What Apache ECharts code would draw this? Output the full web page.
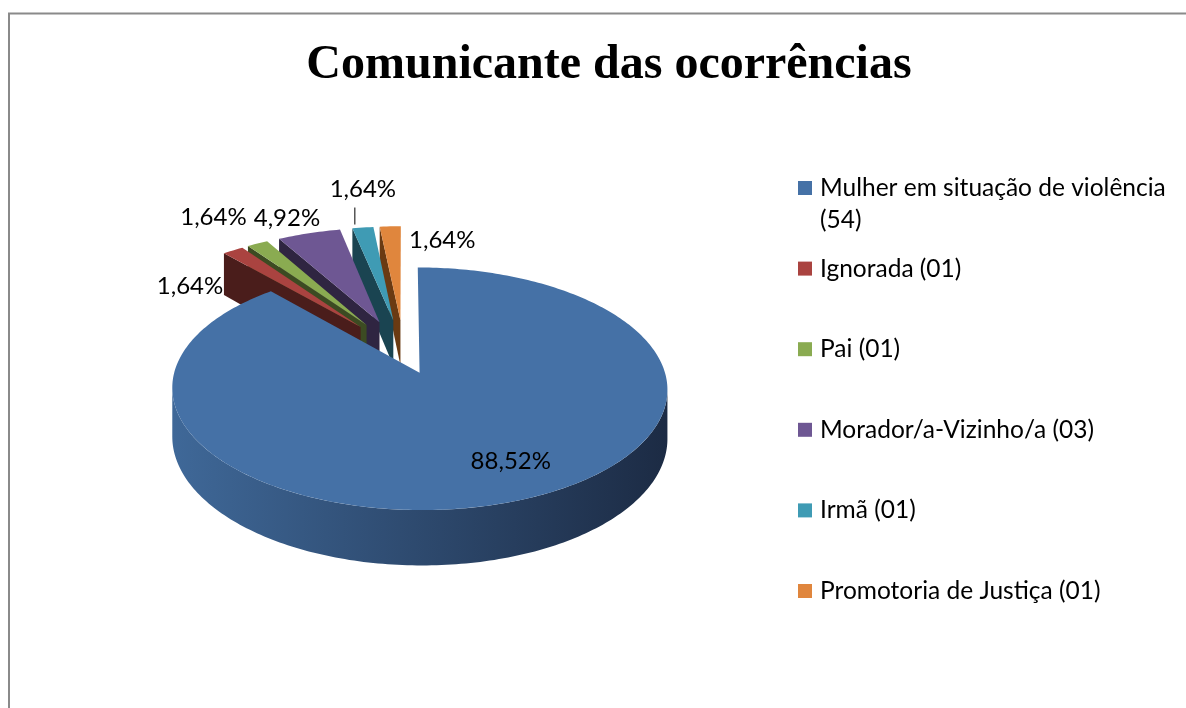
<!DOCTYPE html>
<html>
<head>
<meta charset="utf-8">
<title>Comunicante das ocorrências</title>
<script src="https://cdn.jsdelivr.net/npm/echarts@6/dist/echarts.min.js"></script>
<style>
  html, body { margin: 0; padding: 0; background: #fff; }
  #chart { width: 1186px; height: 708px; }
</style>
</head>
<body>
<div id="chart"></div>
<script>
  // dados
  const categories = ['Mulher em situação de violência', 'Ignorada', 'Pai', 'Morador/a-Vizinho/a', 'Irmã', 'Promotoria de Justiça'];
  const counts = [54, 1, 1, 3, 1, 1];

  // estilo
  const topColors = ['#4571a6', '#aa4340', '#8aab51', '#6e5793', '#3f9bb4', '#e0863d'];
  const wallColors = ['#1d2c45', '#4a1d1b', '#3c4b22', '#2f2541', '#1a4451', '#6a3a12'];
  const sideColors = ['#3f6898', '#1c2b44'];
  const explode = [0.18, 0.3, 0.3, 0.3, 0.3, 0.3];
  const labelShift = [[18, -4], [-43, 36], [-44, -26], [-22, -15], [0, -38], [52, 14]];
  const leader = [false, false, false, false, true, false];
  const FONT = '24px Lato';

  const total = counts.reduce((s, v) => s + v, 0);
  const names = categories.map((c, i) => c + ' (' + String(counts[i]).padStart(2, '0') + ')');
  const pctText = v => (v / total * 100).toFixed(2).replace('.', ',') + '%';

  // projeção do disco em perspectiva
  const CX = 404, CY = 353, RX = 240, RY = 114, K = 0.13, DEPTH = 47;
  const RAD = Math.PI / 180;
  function proj(u, v, down) {
    const w = 1 + K * v;
    return [CX + RX * u / w, CY - RY * v / w + (down ? DEPTH / w : 0)];
  }

  // ângulos de cada fatia (sentido horário a partir das 12h)
  const angles = [];
  let acc = 0;
  counts.forEach(v => {
    const a1 = 90 - acc / total * 360;
    acc += v;
    angles.push([90 - acc / total * 360, a1]);
  });

  function arc(off, t0, t1, down) {
    const pts = [];
    const n = Math.max(2, Math.ceil(Math.abs(t1 - t0)));
    for (let j = 0; j <= n; j++) {
      const t = (t0 + (t1 - t0) * j / n) * RAD;
      pts.push(proj(off[0] + Math.cos(t), off[1] + Math.sin(t), down));
    }
    return pts;
  }

  // trecho da borda externa voltado para o observador
  function visibleRanges(a, b) {
    const lo = 180 + Math.asin(K) / RAD, hi = 360 - Math.asin(K) / RAD;
    const out = [];
    [-720, -360, 0, 360].forEach(s => {
      const t0 = Math.max(a, lo + s), t1 = Math.min(b, hi + s);
      if (t1 > t0) out.push([t0, t1]);
    });
    return out;
  }

  function renderSlice(i) {
    const [a, b] = angles[i];
    const m = (a + b) / 2 * RAD;
    const off = [explode[i] * Math.cos(m), explode[i] * Math.sin(m)];
    const base = i === 0 ? 20 : 2 * (counts.length - i);
    const rim = (t, down) => proj(off[0] + Math.cos(t * RAD), off[1] + Math.sin(t * RAD), down);
    const apexTop = proj(off[0], off[1], false);
    const apexBot = proj(off[0], off[1], true);
    const children = [];

    const wall = pts => ({ type: 'polygon', shape: { points: pts }, style: { fill: wallColors[i] }, z2: base });
    if (Math.cos(b * RAD) < -1e-6) children.push(wall([apexTop, rim(b, false), rim(b, true), apexBot]));
    if (Math.cos(a * RAD) > 1e-6) children.push(wall([apexTop, rim(a, false), rim(a, true), apexBot]));

    visibleRanges(a, b).forEach(([t0, t1]) => {
      children.push({
        type: 'polygon',
        shape: { points: arc(off, t0, t1, false).concat(arc(off, t1, t0, true)) },
        style: {
          fill: {
            type: 'linear', x: 0, y: 0, x2: 1, y2: 0,
            colorStops: [{ offset: 0, color: sideColors[0] }, { offset: 1, color: sideColors[1] }]
          }
        },
        z2: base
      });
    });

    children.push({
      type: 'polygon',
      shape: { points: [apexTop].concat(arc(off, a, b, false)) },
      style: { fill: topColors[i] },
      z2: base + 1
    });

    // rótulo de porcentagem
    const r = i === 0 ? 0.75 : 1;
    const anchor = proj(off[0] + r * Math.cos(m), off[1] + r * Math.sin(m), false);
    children.push({
      type: 'text',
      x: anchor[0] + labelShift[i][0],
      y: anchor[1] + labelShift[i][1],
      style: { text: pctText(counts[i]), font: FONT, fill: '#000', align: 'center', verticalAlign: 'middle' },
      z2: 40
    });
    if (leader[i]) {
      children.push({
        type: 'line',
        shape: { x1: anchor[0] - 8, y1: anchor[1] - 3, x2: anchor[0] - 8, y2: anchor[1] - 20 },
        style: { stroke: '#000', lineWidth: 1 },
        z2: 40
      });
    }
    return { type: 'group', children };
  }

  const myChart = echarts.init(document.getElementById('chart'));
  const option = {
    animation: false,
    backgroundColor: '#fff',
    title: {
      text: 'Comunicante das ocorrências',
      left: 604,
      textAlign: 'center',
      top: 37,
      textStyle: { fontFamily: 'Liberation Serif', fontWeight: 'bold', fontSize: 48, color: '#000' }
    },
    legend: {
      orient: 'vertical',
      left: 793,
      top: 170,
      itemWidth: 14,
      itemHeight: 14,
      itemGap: 54.6,
      icon: 'rect',
      selectedMode: false,
      data: names,
      formatter: name => name === names[0] ? categories[0] : name,
      textStyle: { fontFamily: 'Lato', fontSize: 24.5, lineHeight: 26, color: '#000', padding: [0, 0, 0, 3] }
    },
    graphic: [
      {
        type: 'rect', silent: true, z: -10,
        shape: { x: 9, y: 13.5, width: 1200, height: 720 },
        style: { fill: 'none', stroke: '#8a8a8a', lineWidth: 2 }
      },
      {
        type: 'text', left: 820, top: 208,
        style: { text: '(' + counts[0] + ')', font: '24.5px Lato', fill: '#000' }
      }
    ],
    series: names.map((name, i) => ({
      type: 'custom',
      name: name,
      coordinateSystem: 'none',
      silent: true,
      itemStyle: { color: topColors[i] },
      data: [[counts[i]]],
      renderItem: () => renderSlice(i)
    }))
  };
  option && myChart.setOption(option);
  window.addEventListener('resize', () => {
    myChart.resize();
  });
</script>
</body>
</html>
